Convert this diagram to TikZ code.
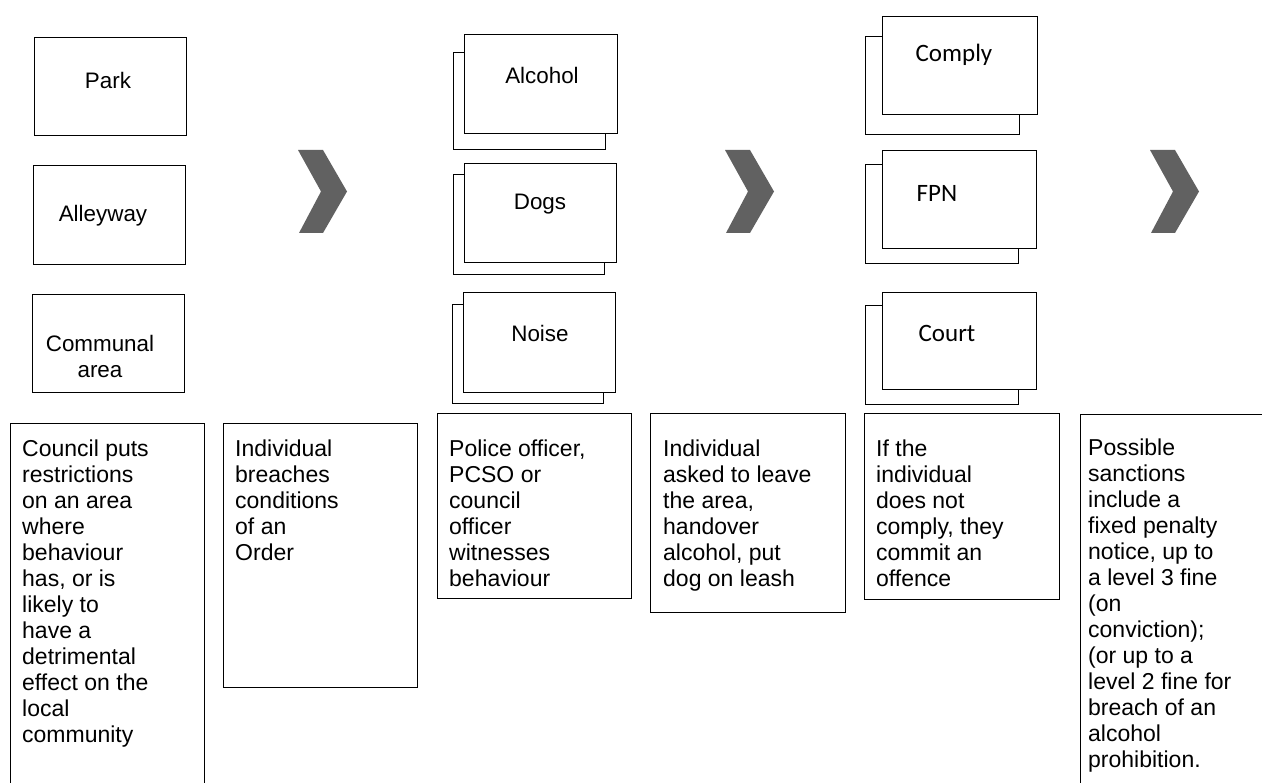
\documentclass[tikz,border=0pt]{standalone}
\usepackage{fontspec}
\setmainfont{Liberation Sans}
\newfontfamily\calibrifont{Carlito}
\usepackage{tikz}

\begin{document}
\begin{tikzpicture}[x=1pt, y=-1pt,
        area/.style={shape=rectangle, draw, line width=0.9pt, anchor=north west, inner sep=0pt, minimum width=152pt, minimum height=98pt},
        cardback/.style={shape=rectangle, draw, fill=white, line width=1pt, anchor=north west, inner sep=0pt},
        card/.style={shape=rectangle, draw, fill=white, line width=1.3pt, anchor=north west, inner sep=0pt},
        boxtext/.style={align=center, inner sep=0pt, font=\fontsize{22.4}{26}\selectfont},
        outcometext/.style={inner sep=0pt, font=\calibrifont\fontsize{25}{29}\selectfont},
        stage/.style={shape=rectangle, draw, line width=0.9pt, anchor=north west, inner sep=0pt},
        stagetext/.style={anchor=north west, align=left, inner sep=0pt, font=\fontsize{23}{26}\selectfont},
        chev/.style={fill=black!62}]
        	\useasboundingbox (0,0) rectangle (1262,783);
        	\clip (0,0) rectangle (1262,783);
        	% Places:
        	\node[area] (park) at (34,37){};
        	\node[boxtext] (parkname) at (108,80){Park};
        	\node[area, minimum height=99pt] (alley) at (33,165){};
        	\node[boxtext] (alleyname) at (103,216){Alleyway};
        	\node[area] (communal) at (32,294){};
        	\node[boxtext] (communalname) at (100,356){Communal\\area};
        	% Behaviours:
        	\node[cardback, minimum width=152pt, minimum height=97pt] (alcoholback) at (453,52){};
        	\node[card, minimum width=153pt, minimum height=99pt] (alcohol) at (464,34){};
        	\node[boxtext] (alcoholname) at (542,75){Alcohol};
        	\node[cardback, minimum width=151pt, minimum height=100pt] (dogsback) at (453,174){};
        	\node[card, minimum width=152pt, minimum height=99pt] (dogs) at (464,163){};
        	\node[boxtext] (dogsname) at (540,204){Dogs};
        	\node[cardback, minimum width=151pt, minimum height=99pt] (noiseback) at (452,304){};
        	\node[card, minimum width=152pt, minimum height=100pt] (noise) at (463,292){};
        	\node[boxtext] (noisename) at (540,333){Noise};
        	% Outcomes:
        	\node[cardback, minimum width=154pt, minimum height=98pt] (complyback) at (865,36){};
        	\node[card, minimum width=155pt, minimum height=98pt] (comply) at (882,16){};
        	\node[outcometext] (complyname) at (954,55){Comply};
        	\node[cardback, minimum width=153pt, minimum height=99pt] (fpnback) at (865,164){};
        	\node[card, minimum width=154pt, minimum height=98pt] (fpn) at (882,150){};
        	\node[outcometext] (fpnname) at (937,193){FPN};
        	\node[cardback, minimum width=153pt, minimum height=99pt] (courtback) at (865,305){};
        	\node[card, minimum width=154pt, minimum height=97pt] (court) at (882,292){};
        	\node[outcometext] (courtname) at (947,333){Court};
        	% Chevrons:
        	\fill[chev] (298,150) -- (323,150) -- (347,191.5) -- (323,233) -- (299,233) -- (321,191.5) -- cycle;
        	\fill[chev] (725,150) -- (750,150) -- (774,191.5) -- (750,233) -- (726,233) -- (748,191.5) -- cycle;
        	\fill[chev] (1150,150) -- (1175,150) -- (1199,191.5) -- (1175,233) -- (1151,233) -- (1173,191.5) -- cycle;
        	% Steps:
        	\node[stage, minimum width=194pt, minimum height=400pt] (council) at (10,423){};
        	\node[stagetext] (counciltext) at (22,440){Council puts\\restrictions\\on an area\\where\\behaviour\\has, or is\\likely to\\have a\\detrimental\\effect on the\\local\\community};
        	\node[stage, minimum width=194pt, minimum height=264pt] (breach) at (223,423){};
        	\node[stagetext] (breachtext) at (235,440){Individual\\breaches\\conditions\\of an\\Order};
        	\node[stage, minimum width=194pt, minimum height=185pt] (witness) at (437,413){};
        	\node[stagetext] (witnesstext) at (449,440){Police officer,\\PCSO or\\council\\officer\\witnesses\\behaviour};
        	\node[stage, minimum width=195pt, minimum height=199pt] (asked) at (650,413){};
        	\node[stagetext] (askedtext) at (663,440){Individual\\asked to leave\\the area,\\handover\\alcohol, put\\dog on leash};
        	\node[stage, minimum width=195pt, minimum height=186pt] (offence) at (864,413){};
        	\node[stagetext] (offencetext) at (876,440){If the\\individual\\does not\\comply, they\\commit an\\offence};
        	\node[stage, minimum width=200pt, minimum height=400pt] (sanction) at (1080,414){};
        	\node[stagetext] (sanctiontext) at (1088,439){Possible\\sanctions\\include  a\\fixed penalty\\notice, up to\\a level 3 fine\\(on\\conviction);\\(or up to a\\level 2 fine for\\breach of an\\alcohol\\prohibition.};
        \end{tikzpicture}
\end{document}
